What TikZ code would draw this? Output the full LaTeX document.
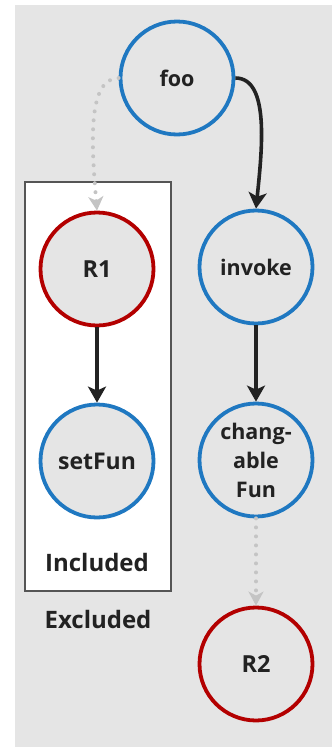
\documentclass[tikz,border=0pt]{standalone}
\usepackage{fontspec}
\setmainfont{Open Sans}
\usetikzlibrary{arrows.meta}
\definecolor{bggray}{HTML}{E5E5E5}
\definecolor{boxgray}{HTML}{555555}
\definecolor{nodeblue}{HTML}{1F78C1}
\definecolor{nodered}{HTML}{B30000}
\definecolor{textdark}{HTML}{222222}
\definecolor{dotgray}{HTML}{C4C4C4}
\tikzset{
  fn/.style={circle, draw=nodeblue, line width=3.8pt, fill=bggray, minimum size=113pt, inner sep=0pt,
    text=textdark, align=center, font=\fontsize{21.5}{29}\selectfont\bfseries},
  rn/.style={fn, draw=nodered, font=\fontsize{23.5}{29}\selectfont\bfseries},
  bigtext/.style={font=\fontsize{23}{29}\selectfont\bfseries},
  lbl/.style={text=textdark, font=\fontsize{24}{28}\selectfont\bfseries},
  arr/.style={draw=textdark, line width=3.6pt, -{Stealth[length=16pt,width=18pt,inset=4pt]}},
  dotarr/.style={draw=dotgray, line width=4pt, line cap=round, dash pattern=on 0pt off 9pt,
    -{Stealth[length=14pt,width=15pt,inset=4pt,fill=dotgray]}},
}
\begin{document}
\begin{tikzpicture}[x=1pt,y=-1pt]
\useasboundingbox (0,0) rectangle (332,747);
\fill[bggray] (15,5) rectangle (332,747);
\draw[fill=white, draw=boxgray, line width=1.2pt] (25,182) rectangle (171,591);
\node[fn] (foo) at (177,78) {foo};
\node[rn] (r1) at (97,269) {R1};
\node[fn, bigtext] (setfun) at (97,461) {setFun};
\node[fn] (invoke) at (256,267) {invoke};
\node[fn] (chfun) at (256,460) {chang-\\able\\Fun};
\node[rn] (r2) at (256,664) {R2};
\node[lbl] (incl) at (97,562) {Included};
\node[lbl] (excl) at (98,619) {Excluded};
\draw[arr] (foo.east) .. controls (270,78) and (262,150) .. (invoke.north);
\draw[dotarr] (foo.west) .. controls (86,78) and (92,150) .. (r1.north);
\draw[arr] (r1) -- (setfun);
\draw[arr] (invoke) -- (chfun);
\draw[dotarr] (chfun) -- (r2);
\end{tikzpicture}
\end{document}
